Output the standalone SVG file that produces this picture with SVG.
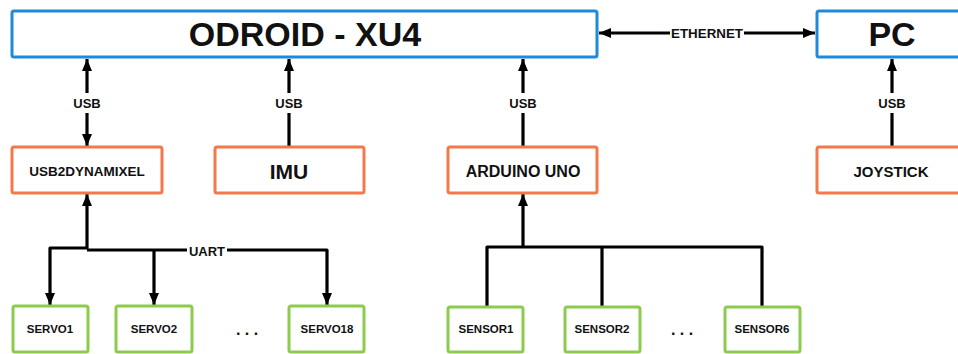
<svg xmlns="http://www.w3.org/2000/svg" width="958" height="354" viewBox="0 0 958 354">
<style>
text{font-family:"Liberation Sans",Arial,sans-serif;font-weight:bold;fill:#111;text-anchor:middle;dominant-baseline:central}
.blue{fill:#fff;stroke:#1f8ad9;stroke-width:3}
.orange{fill:#fff;stroke:#f3784a;stroke-width:3}
.green{fill:#fff;stroke:#8ccb4b;stroke-width:3}
.c{fill:none;stroke:#000;stroke-width:3.2;stroke-linejoin:round}
.lbl{font-size:13px}
.sm{font-size:11.5px}
.bg{fill:#fff}
</style>
<defs>
<marker id="ah" markerUnits="userSpaceOnUse" viewBox="0 0 12 10" refX="12" refY="5" markerWidth="12" markerHeight="10" orient="auto-start-reverse">
<path d="M0,0 L12,5 L0,10 z" fill="#000"/>
</marker>
</defs>
<g id="connectors">
<path class="c" d="M87,59 L87,146" marker-start="url(#ah)" marker-end="url(#ah)"/>
<rect class="bg" x="70" y="93" width="34" height="20"/>
<text class="lbl" x="87" y="103">USB</text>
<path class="c" d="M289,59 L289,147" marker-start="url(#ah)"/>
<rect class="bg" x="272" y="93" width="34" height="20"/>
<text class="lbl" x="289" y="103">USB</text>
<path class="c" d="M523,59 L523,147" marker-start="url(#ah)"/>
<rect class="bg" x="506" y="93" width="34" height="20"/>
<text class="lbl" x="523" y="103">USB</text>
<path class="c" d="M892,59 L892,147" marker-start="url(#ah)"/>
<rect class="bg" x="875" y="93" width="34" height="20"/>
<text class="lbl" x="892" y="103">USB</text>
<path class="c" d="M599,33 L815,33" marker-start="url(#ah)" marker-end="url(#ah)"/>
<rect class="bg" x="670" y="25" width="74" height="16"/>
<text class="lbl" x="707" y="33" textLength="72" lengthAdjust="spacingAndGlyphs">ETHERNET</text>
<path class="c" d="M87,194 L87,249" marker-start="url(#ah)"/>
<path class="c" d="M87,248 L50,248 L50,305" marker-end="url(#ah)"/>
<path class="c" d="M87,250 L327,250 L327,305" marker-end="url(#ah)"/>
<path class="c" d="M154,250 L154,305" marker-end="url(#ah)"/>
<rect class="bg" x="187" y="243" width="40" height="16"/>
<text class="lbl" x="207" y="251">UART</text>
<path class="c" d="M523,194 L523,248" marker-start="url(#ah)"/>
<path class="c" d="M487,307 L487,247 L762,247 L762,307"/>
<path class="c" d="M602,247 L602,307"/>
</g>
<g id="odroid"><rect class="blue" x="12" y="11" width="585" height="46" rx="2"/><text x="305" y="34" style="font-size:34px">ODROID - XU4</text></g>
<g id="pc"><rect class="blue" x="817" y="11" width="150" height="46" rx="2"/><text x="892" y="34" style="font-size:34px">PC</text></g>
<g id="usb2dynamixel"><rect class="orange" x="12" y="147" width="150" height="46" rx="2"/><text x="87" y="171" style="font-size:13.5px">USB2DYNAMIXEL</text></g>
<g id="imu"><rect class="orange" x="215" y="147" width="149" height="46" rx="2"/><text x="289" y="171" style="font-size:21px">IMU</text></g>
<g id="arduino"><rect class="orange" x="448" y="147" width="149" height="46" rx="2"/><text x="523" y="171" style="font-size:16px">ARDUINO UNO</text></g>
<g id="joystick"><rect class="orange" x="817" y="147" width="150" height="46" rx="2"/><text x="891" y="171" style="font-size:15px">JOYSTICK</text></g>
<g id="servo1"><rect class="green" x="13" y="306" width="75" height="46" rx="2"/><text class="sm" x="50" y="329">SERVO1</text></g>
<g id="servo2"><rect class="green" x="116" y="306" width="76" height="46" rx="2"/><text class="sm" x="154" y="329">SERVO2</text></g>
<g id="servo-dots"><text x="247" y="329" style="font-size:16px">. . .</text></g>
<g id="servo18"><rect class="green" x="289" y="306" width="75" height="46" rx="2"/><text class="sm" x="327" y="329">SERVO18</text></g>
<g id="sensor1"><rect class="green" x="448" y="307" width="75" height="45" rx="2"/><text class="sm" x="486" y="329">SENSOR1</text></g>
<g id="sensor2"><rect class="green" x="565" y="307" width="75" height="45" rx="2"/><text class="sm" x="602" y="329">SENSOR2</text></g>
<g id="sensor-dots"><text x="682" y="329" style="font-size:16px">. . .</text></g>
<g id="sensor6"><rect class="green" x="725" y="307" width="75" height="45" rx="2"/><text class="sm" x="762" y="329">SENSOR6</text></g>
</svg>
